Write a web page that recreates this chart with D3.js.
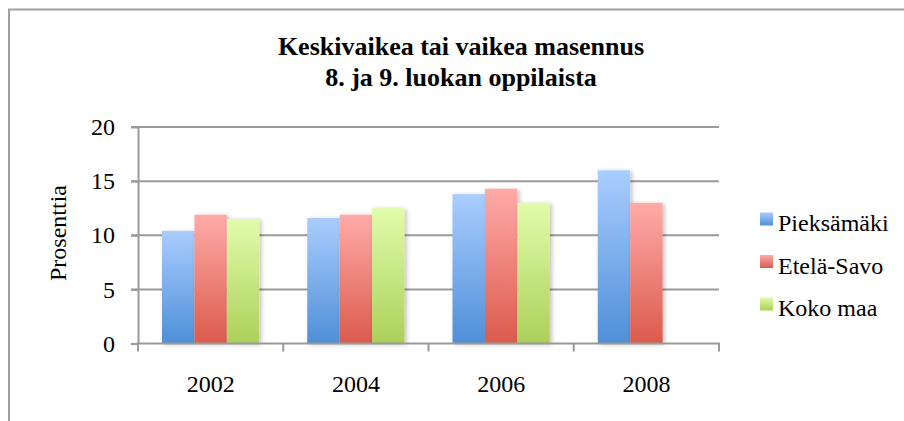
<!DOCTYPE html>
<html><head><meta charset="utf-8">
<script src="https://cdn.jsdelivr.net/npm/d3@7"></script>
<style>body{margin:0;background:#fff}svg{display:block}text{font-family:"Liberation Serif","Times New Roman",serif;fill:#000}</style>
</head><body><svg id="c" width="904" height="421"></svg>
<script>
const categories = ["2002","2004","2006","2008"];
const seriesNames = ["Pieksämäki","Etelä-Savo","Koko maa"];
const pieksamaki = [10.4, 11.6, 13.8, 16.0];
const etelaSavo = [11.9, 11.9, 14.3, 13.0];
const kokoMaa = [11.5, 12.5, 13.0, null];
const yTicks = [0,5,10,15,20];
const titleLines = ["Keskivaikea tai vaikea masennus","8. ja 9. luokan oppilaista"];
const yTitle = "Prosenttia";
const gradColors = [["#aacdff","#4e8fd8"],["#ffaba8","#db5a4c"],["#e1fcaa","#acd05a"]];

const FONT = "'Liberation Serif','Times New Roman',serif";
const series = [pieksamaki, etelaSavo, kokoMaa];
const svg = d3.select("#c");
const defs = svg.append("defs");
gradColors.forEach((g,i)=>{
  const lg = defs.append("linearGradient").attr("id","g"+i).attr("x1",0).attr("y1",0).attr("x2",0).attr("y2",1);
  lg.append("stop").attr("offset","0%").attr("stop-color",g[0]);
  lg.append("stop").attr("offset","100%").attr("stop-color",g[1]);
});
const f = defs.append("filter").attr("id","sh").attr("x","-20%").attr("y","-20%").attr("width","150%").attr("height","140%");
f.append("feDropShadow").attr("dx",2).attr("dy",1).attr("stdDeviation",2).attr("flood-color","#000").attr("flood-opacity",0.25);

// chart frame (extends beyond view right/bottom)
svg.append("rect").attr("x",9).attr("y",9.5).attr("width",1000).attr("height",1000)
  .attr("fill","none").attr("stroke","#a0a0a0").attr("stroke-width",2);

const x = d3.scaleBand().domain(categories).range([138,719]).paddingInner(0).paddingOuter(0);
const y = d3.scaleLinear().domain([0,20]).range([343.5,127]);
const inner = d3.scaleBand().domain(d3.range(3)).range([24, x.bandwidth()-24]);

// gridlines
svg.append("g").selectAll("line").data(yTicks.filter(d=>d>0)).join("line")
  .attr("x1",131).attr("x2",719).attr("y1",d=>y(d)).attr("y2",d=>y(d))
  .attr("stroke","#9a9a9a").attr("stroke-width",2);

// bars
const rows = [];
categories.forEach((c,ci)=>series.forEach((s,si)=>{ if(s[ci]!=null) rows.push({c,si,v:s[ci]}); }));
svg.append("g").selectAll("rect").data(rows).join("rect")
  .attr("x",d=>x(d.c)+inner(d.si)).attr("width",inner.bandwidth())
  .attr("y",d=>y(d.v)).attr("height",d=>y(0)-y(d.v))
  .attr("fill",d=>"url(#g"+d.si+")").attr("filter","url(#sh)");

// y axis
const ya = svg.append("g").attr("transform","translate(138,0)")
  .call(d3.axisLeft(y).tickValues(yTicks).tickSize(7).tickPadding(16).tickSizeOuter(0));
ya.attr("font-family",null).attr("font-size",null);
ya.select(".domain").attr("stroke","#9a9a9a").attr("stroke-width",2);
ya.selectAll(".tick line").attr("stroke","#9a9a9a").attr("stroke-width",2);
ya.selectAll("text").style("font-size","24px").style("font-family",FONT).attr("fill","#000");

// x axis
const xa = svg.append("g").attr("transform","translate(0,"+y(0)+")")
  .call(d3.axisBottom(x).tickSize(0).tickPadding(31));
xa.attr("font-family",null).attr("font-size",null);
xa.select(".domain").remove();
xa.selectAll("text").style("font-size","24px").style("font-family",FONT).attr("fill","#000");
svg.append("line").attr("x1",137).attr("x2",720).attr("y1",y(0)).attr("y2",y(0)).attr("stroke","#9a9a9a").attr("stroke-width",2);
svg.append("g").selectAll("line").data(d3.range(categories.length+1)).join("line")
  .attr("x1",i=>138+i*x.bandwidth()).attr("x2",i=>138+i*x.bandwidth())
  .attr("y1",y(0)).attr("y2",y(0)+8).attr("stroke","#9a9a9a").attr("stroke-width",2);

// y title
svg.append("text").attr("transform","translate(66,233) rotate(-90)").attr("text-anchor","middle")
  .style("font-size","24px").style("font-family",FONT).text(yTitle);

// title
svg.append("g").selectAll("text").data(titleLines).join("text")
  .attr("x",461).attr("y",(d,i)=>55+i*31).attr("text-anchor","middle")
  .style("font-size","26px").style("font-weight","bold").style("font-family",FONT).text(d=>d);

// legend
const lg = svg.append("g").selectAll("g").data(seriesNames).join("g")
  .attr("transform",(d,i)=>"translate(760,"+(219+i*42.5)+")");
lg.append("rect").attr("x",0).attr("y",-6.5).attr("width",13).attr("height",13).attr("fill",(d,i)=>"url(#g"+i+")");
lg.append("text").attr("x",18).attr("y",12).style("font-size","24px").style("font-family",FONT).text(d=>d);
</script></body></html>
